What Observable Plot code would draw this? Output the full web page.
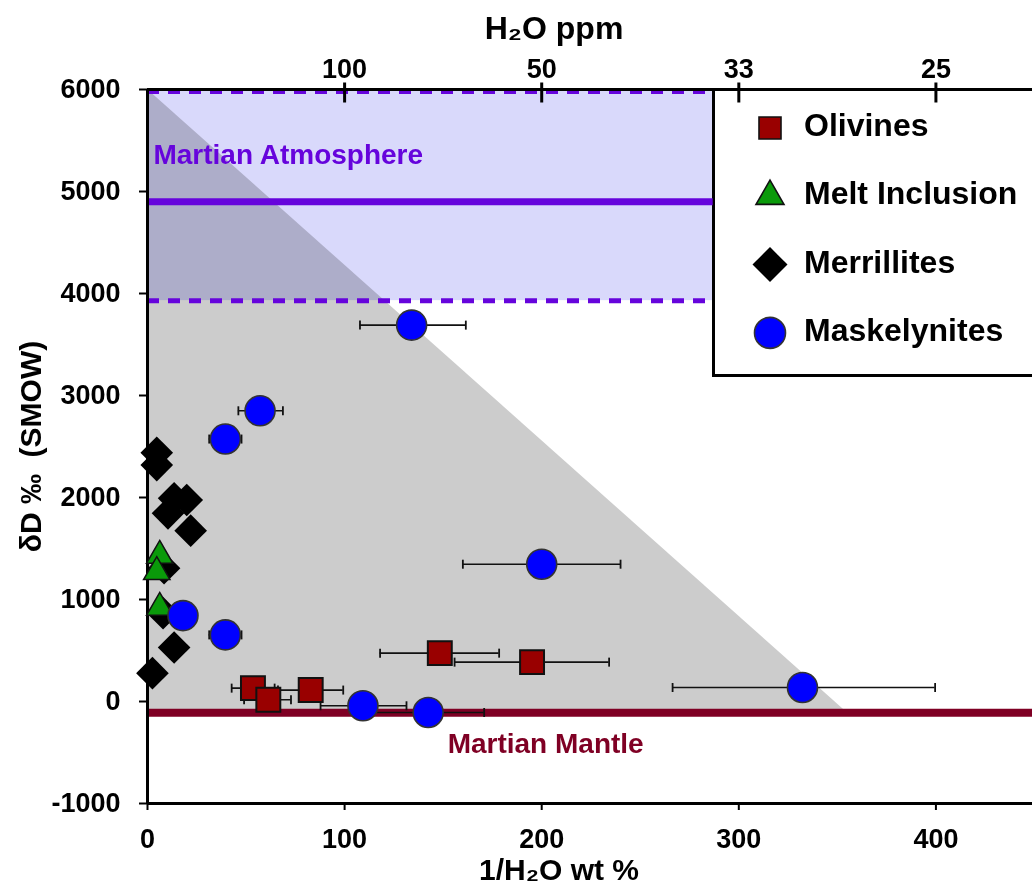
<!DOCTYPE html>
<html>
<head>
<meta charset="utf-8">
<script src="https://cdn.jsdelivr.net/npm/d3@7"></script>
<script src="https://cdn.jsdelivr.net/npm/@observablehq/plot@0.6"></script>
<style>
  html, body { margin: 0; padding: 0; background: #fff; overflow: hidden; }
  #wrap { position: relative; width: 1032px; height: 886px; overflow: hidden; background: #fff;
          font-family: "Liberation Sans", Arial, Helvetica, sans-serif; }
  #wrap > svg { position: absolute; left: 0; top: 0; }
  #legend { position: absolute; left: 712px; top: 88px; width: 420px; height: 283px;
            border: 3px solid #000; background: #fff; }
  #legend svg { position: absolute; left: 0; top: 0; overflow: visible; }
</style>
</head>
<body>
<div id="wrap"></div>
<script>
const FONT = '"Liberation Sans", Arial, Helvetica, sans-serif';

// ---- axes ----
const xMax = 449;
const xTicks = [0, 100, 200, 300, 400];
const yTicks = [-1000, 0, 1000, 2000, 3000, 4000, 5000, 6000];
const ppmTickPos = [100, 200, 300, 400];          // 1/H2O wt %
const ppmTickLabels = ["100", "50", "33", "25"];  // H2O ppm

// ---- reservoirs (δD ‰) ----
const mantleD = -110;
const atmMean = 4900;
const atmLow = 3930;
const atmHigh = 5980;
const atmRight = 287;   // atmosphere band stops at the legend box
// mixing field between mantle and atmosphere
const shadeX = [0, 355];
const shadeTop = [6000, -110];

// ---- Olivines ----
const olivineX  = [53.5, 61.3, 82.8, 148.3, 195.1];
const olivineD  = [131, 17, 112, 474, 386];
const olivineLo = [42.7, 49.0, 66.2, 118.0, 155.8];
const olivineHi = [64.5, 72.8, 99.3, 178.4, 234.2];

// ---- Melt inclusions ----
const meltX = [6.2, 4.7, 6.2];
const meltD = [1430, 1270, 920];

// ---- Merrillites ----
const merrX = [4.7, 4.7, 13.5, 19.9, 10.4, 21.9, 8.4, 7.9, 13.5, 2.5];
const merrD = [2439, 2318, 1992, 1975, 1845, 1675, 1306, 866, 529, 278];

// ---- Maskelynites ----
const maskX  = [134, 57.1, 39.5, 18.0, 39.5, 200, 332.3, 109.3, 142.4];
const maskD  = [3690, 2850, 2573, 842, 653, 1346, 137, -42, -108];
const maskLo = [107.8, 46.1, 31.3, null, 31.3, 160, 266.4, 87.8, 114.5];
const maskHi = [161.5, 68.7, 47.7, null, 47.7, 240, 399.6, 131.4, 170.8];

// ---- legend ----
const legendNames = ["Olivines", "Melt Inclusion", "Merrillites", "Maskelynites"];

const PURPLE = "#6604dc";
const MAROON = "#7f0024";
const OLIVINE = "#990000";
const MELT = "#0a9a0a";
const MASK = "#0000ff";

const olivines = olivineX.map((x, i) => ({x, d: olivineD[i], lo: olivineLo[i], hi: olivineHi[i]}));
const melts = meltX.map((x, i) => ({x, d: meltD[i]}));
const merrillites = merrX.map((x, i) => ({x, d: merrD[i]}));
const maskelynites = maskX.map((x, i) => ({x, d: maskD[i], lo: maskLo[i], hi: maskHi[i]}));
const errors = [...olivines, ...maskelynites].filter(p => p.lo != null);
const shade = shadeX.map((x, i) => ({x, top: shadeTop[i], base: mantleD}));

// short vertical strokes used as error-bar caps and top-axis ticks
const capSymbol = {draw(ctx) { ctx.moveTo(0, -4.5); ctx.lineTo(0, 4.5); }};
const crossTick = {draw(ctx) { ctx.moveTo(0, -7); ctx.lineTo(0, 13); }};

const chart = Plot.plot({
  width: 1032,
  height: 886,
  marginLeft: 147,
  marginRight: 0,
  marginTop: 89,
  marginBottom: 83,
  x: {domain: [0, xMax]},
  y: {domain: [-1000, 6000]},
  style: {fontFamily: FONT, fontWeight: "bold", color: "#000", background: "transparent", overflow: "visible"},
  marks: [
    // mixing field and atmosphere band
    Plot.areaY(shade, {x: "x", y1: "base", y2: "top", fill: "#cccccc"}),
    Plot.rect([{lo: atmLow, hi: atmHigh}], {x1: 0, x2: atmRight, y1: "lo", y2: "hi", fill: "#d9d9fb", mixBlendMode: "multiply"}),
    Plot.ruleY([atmLow, atmHigh], {x1: 0, x2: atmRight, stroke: PURPLE, strokeWidth: 5, strokeDasharray: "12,9"}),
    Plot.ruleY([atmMean], {x1: 0, x2: atmRight, stroke: PURPLE, strokeWidth: 7}),
    Plot.ruleY([mantleD], {stroke: MAROON, strokeWidth: 8}),
    Plot.text(["Martian Atmosphere"], {text: d => d, x: 3, y: atmMean, dy: -47, textAnchor: "start",
      fill: PURPLE, fontSize: 28, fontWeight: "bold"}),
    Plot.text(["Martian Mantle"], {text: d => d, x: 202, y: mantleD, dy: 31, textAnchor: "middle",
      fill: MAROON, fontSize: 28, fontWeight: "bold"}),

    // axes
    Plot.ruleX([0], {stroke: "#000", strokeWidth: 3}),
    Plot.ruleY([-1000], {stroke: "#000", strokeWidth: 3}),
    Plot.ruleY([6000], {stroke: "#000", strokeWidth: 3}),
    Plot.axisY(yTicks, {tickSize: 8, tickPadding: 19, strokeWidth: 2, tickFormat: d => String(d),
      fontSize: 27, fontWeight: "bold", label: null}),
    Plot.axisX(xTicks, {anchor: "bottom", tickSize: 7, tickPadding: 18, strokeWidth: 2, tickFormat: d => String(d),
      fontSize: 27, fontWeight: "bold", label: null}),
    Plot.axisX(ppmTickPos, {anchor: "top", tickSize: 0, tickPadding: 12,
      tickFormat: d => ppmTickLabels[ppmTickPos.indexOf(d)], fontSize: 27, fontWeight: "bold", label: null}),
    Plot.dot(ppmTickPos, {x: d => d, frameAnchor: "top", symbol: crossTick, stroke: "#000", strokeWidth: 3, fill: "none"}),
    Plot.text(["H₂O ppm"], {text: d => d, frameAnchor: "top", dx: -36, dy: -61, lineAnchor: "middle",
      textAnchor: "middle", fontSize: 32, fontWeight: "bold"}),
    Plot.text(["1/H₂O wt %"], {text: d => d, frameAnchor: "bottom", dx: -31, dy: 67, lineAnchor: "middle",
      textAnchor: "middle", fontSize: 30, fontWeight: "bold"}),
    Plot.text(["δD ‰\u00a0 (SMOW)"], {text: d => d, frameAnchor: "left", dx: -116, rotate: -90, lineAnchor: "middle",
      textAnchor: "middle", fontSize: 30, fontWeight: "bold"}),

    // horizontal error bars
    Plot.ruleY(errors, {y: "d", x1: "lo", x2: "hi", stroke: "#111", strokeWidth: 1.6}),
    Plot.dot(errors, {x: "lo", y: "d", symbol: capSymbol, stroke: "#111", strokeWidth: 1.8, fill: "none"}),
    Plot.dot(errors, {x: "hi", y: "d", symbol: capSymbol, stroke: "#111", strokeWidth: 1.8, fill: "none"}),

    // samples
    Plot.dot(merrillites, {x: "x", y: "d", symbol: "diamond2", r: 14.7, fill: "#000", stroke: "none"}),
    Plot.dot(melts, {x: "x", y: "d", symbol: "triangle", r: 9.8, fill: MELT, stroke: "#111", strokeWidth: 1.5}),
    Plot.dot(olivines, {x: "x", y: "d", symbol: "square", r: 13.5, fill: OLIVINE, stroke: "#111", strokeWidth: 2}),
    Plot.dot(maskelynites, {x: "x", y: "d", symbol: "circle", r: 15, fill: MASK, stroke: "#333", strokeWidth: 1.6})
  ]
});

const wrap = document.getElementById("wrap");

// legend box sits beneath the chart layer so the top-axis ticks cross its border
const legend = document.createElement("div");
legend.id = "legend";
wrap.appendChild(legend);
wrap.appendChild(chart);

const legendStyles = [
  {type: d3.symbolSquare, size: 484, fill: OLIVINE, stroke: "#111", sw: 1.6},
  {type: d3.symbolTriangle, size: 339, fill: MELT, stroke: "#111", sw: 1.6},
  {type: d3.symbolDiamond2, size: 781, fill: "#000", stroke: "none", sw: 0},
  {type: d3.symbolCircle, size: 755, fill: MASK, stroke: "#333", sw: 1.6}
];
const lsvg = d3.select(legend).append("svg").attr("width", 420).attr("height", 283);
const rows = lsvg.selectAll("g").data(legendNames).join("g")
  .attr("transform", (d, i) => `translate(0,${37 + i * 68.3})`);
rows.append("path")
  .attr("transform", "translate(55,0)")
  .attr("d", (d, i) => d3.symbol(legendStyles[i].type, legendStyles[i].size)())
  .attr("fill", (d, i) => legendStyles[i].fill)
  .attr("stroke", (d, i) => legendStyles[i].stroke)
  .attr("stroke-width", (d, i) => legendStyles[i].sw);
rows.append("text")
  .attr("x", 89)
  .attr("y", 8)
  .attr("font-family", FONT)
  .attr("font-weight", "bold")
  .attr("font-size", 32)
  .text(d => d);
</script>
</body>
</html>
